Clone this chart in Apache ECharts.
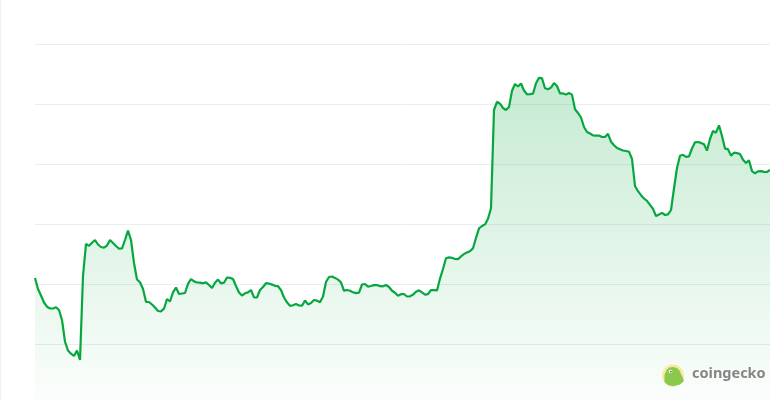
<!DOCTYPE html>
<html>
<head>
<meta charset="utf-8">
<script src="https://cdn.jsdelivr.net/npm/echarts@6/dist/echarts.min.js"></script>
<style>
  html, body { margin: 0; padding: 0; background: #ffffff; overflow: hidden; }
  #wrap { width: 769px; height: 400px; border-left: 1px solid #eef0f3; overflow: hidden; position: relative; }
  #chart { width: 769px; height: 404px; }
</style>
</head>
<body>
<div id="wrap"><div id="chart"></div></div>
<script>
// Price series (arbitrary units)
const prices = [
  126, 115, 108.5, 101.5, 97.3, 95.5, 95.5, 96.7, 94, 84,
  62.3, 53.5, 50.3, 48, 53.5, 44, 128, 160.2, 158.2, 161.3,
  164, 159.5, 157, 156.3, 158.4, 164, 161, 158, 155.3, 155.7,
  164, 173.5, 164, 141, 124.5, 121.7, 115, 102.2, 102, 99.5,
  96.4, 93, 92.7, 95.3, 105, 102.5, 111.7, 116.5, 110, 110.5,
  111, 120.1, 125, 122.6, 121.5, 121.3, 120.7, 121.6, 119, 116,
  121.3, 124.4, 120.7, 121.3, 126.5, 126.1, 125, 118, 111.5, 108.4,
  110.7, 111.6, 114, 106.7, 106.5, 114, 117, 120.8, 120.5, 119.4,
  118.2, 117.8, 114, 106.5, 101.7, 98.1, 98.8, 100, 98.5, 98.3,
  103.5, 99.6, 101, 104, 103.4, 101.7, 107.5, 122, 127, 127.5,
  126.1, 124.4, 121.7, 113.2, 114, 113.3, 111.8, 110.9, 111.4, 119.5,
  120, 117.4, 118, 118.9, 119, 117.8, 117.7, 119, 117, 113.2,
  111.3, 108.3, 109.8, 110, 107.5, 107.7, 109.4, 112.3, 113.7, 111.6,
  109.4, 109.9, 114, 113.8, 113.6, 125.4, 135, 145.7, 146.6, 146.2,
  145, 144.8, 147.6, 150, 151.6, 152.7, 155.8, 166, 175.7, 178,
  179.6, 185.2, 195.7, 294, 302.2, 300.3, 296, 294, 297, 313.3,
  320, 317.5, 320.5, 313.5, 309.7, 309.9, 310.3, 320.7, 326.2, 325.8,
  315.7, 314.8, 316.4, 321, 318, 310.7, 310.6, 309.4, 311, 309.4,
  294.7, 291, 286.5, 277, 272, 270.5, 268.6, 268.3, 268.5, 267,
  267, 270.2, 262.3, 258.8, 256, 254.7, 253.5, 253, 252.3, 245,
  218, 212.8, 208.8, 205.5, 203.2, 199.2, 195.2, 188, 189.5, 191.1,
  189, 189.6, 194, 215.5, 236, 248.3, 249.2, 247.2, 247.6, 255.5,
  261.7, 262, 261.1, 259.7, 253.4, 265, 273, 271.3, 278.7, 268,
  255.4, 254.8, 248.4, 251.3, 250.9, 250, 244.3, 241, 243.6, 232.9,
  230.7, 232.6, 232.8, 232.2, 232, 234
];
const days = prices.map((_, i) => 'Day ' + (i + 1));
const yTicks = { min: 0, max: 360, interval: 60 };

const chart = echarts.init(document.getElementById('chart'), null, { renderer: 'canvas' });
chart.setOption({
  animation: false,
  backgroundColor: '#ffffff',
  grid: { left: 34, right: 0, top: 44, bottom: 0, containLabel: false },
  xAxis: {
    type: 'category',
    data: days,
    boundaryGap: false,
    axisLine: { show: false },
    axisTick: { show: false },
    axisLabel: { show: false },
    splitLine: { show: false }
  },
  yAxis: {
    type: 'value',
    min: yTicks.min,
    max: yTicks.max,
    interval: yTicks.interval,
    axisLine: { show: false },
    axisTick: { show: false },
    axisLabel: { show: false },
    splitLine: { show: true, lineStyle: { color: '#ebedf0', width: 1 } }
  },
  series: [{
    type: 'line',
    data: prices,
    showSymbol: false,
    smooth: false,
    lineStyle: { color: '#06a73f', width: 2.2 },
    itemStyle: { color: '#06a73f' },
    areaStyle: {
      color: new echarts.graphic.LinearGradient(0, 0, 0, 1, [
        { offset: 0, color: 'rgba(12,169,66,0.34)' },
        { offset: 1, color: 'rgba(12,169,66,0.02)' }
      ])
    }
  }],
  graphic: [
    { type: 'circle', shape: { cx: 672, cy: 375.5, r: 11 }, style: { fill: '#f6eba0' }, z: 100 },
    { type: 'polygon', shape: { points: [[663.5, 382], [663.5, 375], [665.5, 370], [668.5, 367.5], [672, 367], [676, 368], [678.5, 370.5], [680, 374], [682, 378], [683, 381], [679, 384.5], [672, 386.3], [667, 385]] }, style: { fill: '#8cc84b' }, z: 101 },
    { type: 'circle', shape: { cx: 669.5, cy: 371.5, r: 1.8 }, style: { fill: '#ffffff' }, z: 102 },
    { type: 'circle', shape: { cx: 669.8, cy: 371.6, r: 0.9 }, style: { fill: '#555555' }, z: 103 },
    { type: 'text', left: 691, top: 366, style: { text: 'coingecko', fill: '#858585', font: 'bold 14.5px "Noto Sans", "Open Sans", sans-serif' }, z: 100 }
  ]
});
</script>
</body>
</html>
